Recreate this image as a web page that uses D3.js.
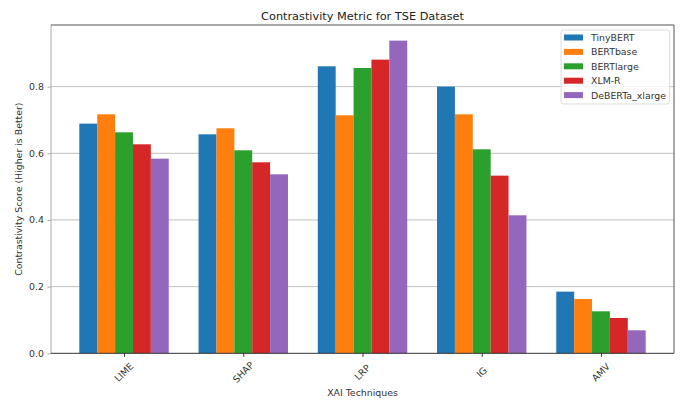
<!DOCTYPE html>
<html><head><meta charset="utf-8">
<script src="https://cdn.jsdelivr.net/npm/d3@7"></script>
<style>body{margin:0;background:#fff;} text{font-family:"DejaVu Sans",sans-serif;}</style>
</head><body>
<svg id="c" width="685" height="401"></svg>
<script>
const categories = ["LIME","SHAP","LRP","IG","AMV"];
const seriesNames = ["TinyBERT","BERTbase","BERTlarge","XLM-R","DeBERTa_xlarge"];
const colors = ["#1f77b4","#ff7f0e","#2ca02c","#d62728","#9467bd"];
const tinyBERT  = [0.689,0.657,0.861,0.800,0.185];
const bertBase  = [0.717,0.675,0.714,0.717,0.163];
const bertLarge = [0.663,0.609,0.856,0.612,0.126];
const xlmR      = [0.627,0.573,0.881,0.533,0.106];
const deberta   = [0.584,0.537,0.938,0.414,0.069];
const yTicks = [0.0,0.2,0.4,0.6,0.8];
const series = [tinyBERT,bertBase,bertLarge,xlmR,deberta];

const svg = d3.select("#c");
const L=51, R=674, T=25, B=353.3;
const barW = 0.15;
const n = categories.length;
const FS = 9.4;
const x = d3.scaleLinear().domain([-0.6125, n-1+0.6125]).range([L,R]);
const ymax = d3.max(series.flat())*1.05;
const y = d3.scaleLinear().domain([0,ymax]).range([B,T]);

// grid
svg.append("g").selectAll("line").data(yTicks.filter(d=>d>0)).join("line")
  .attr("x1",L).attr("x2",R).attr("y1",d=>y(d)).attr("y2",d=>y(d))
  .attr("stroke","#b0b0b0").attr("stroke-width",0.8);

// bars
series.forEach((vals,si)=>{
  svg.append("g").selectAll("rect").data(vals).join("rect")
    .attr("x",(d,i)=>x(i+(si-2)*barW-barW/2))
    .attr("width",x(barW)-x(0))
    .attr("y",d=>y(d))
    .attr("height",d=>B-y(d))
    .attr("fill",colors[si]);
});

// axes
const yAxis = d3.axisLeft(y).tickValues(yTicks).tickFormat(d3.format(".1f")).tickSize(3.5).tickPadding(3.5);
const gy = svg.append("g").attr("transform",`translate(${L},0)`).call(yAxis);
gy.select(".domain").remove();
gy.selectAll("line").attr("stroke","#aaa");
gy.selectAll("text").attr("font-size",FS).attr("fill","#333");

const xAxis = d3.axisBottom(x).tickValues(d3.range(n)).tickFormat(i=>categories[i]).tickSize(3.5).tickPadding(3.5);
const gx = svg.append("g").attr("transform",`translate(0,${B})`).call(xAxis);
gx.select(".domain").remove();
gx.selectAll("line").attr("stroke","#333");
gx.selectAll("text").attr("font-size",FS).attr("fill","#333")
  .attr("text-anchor","middle").attr("dy",0).attr("y",0)
  .attr("transform","translate(0,19.5) rotate(-45)").attr("dominant-baseline","middle");

// spines
svg.append("line").attr("x1",L).attr("x2",L).attr("y1",T).attr("y2",B).attr("stroke","#aaa").attr("stroke-width",1);
svg.append("line").attr("x1",L).attr("x2",R).attr("y1",B).attr("y2",B).attr("stroke","#333").attr("stroke-width",1);
svg.append("line").attr("x1",L).attr("x2",R).attr("y1",T).attr("y2",T).attr("stroke","#555").attr("stroke-width",1);
svg.append("line").attr("x1",R).attr("x2",R).attr("y1",T).attr("y2",B).attr("stroke","#555").attr("stroke-width",1);

// title & labels
svg.append("text").attr("x",(L+R)/2).attr("y",20).attr("text-anchor","middle").attr("font-size",11.3).attr("fill","#222")
  .text("Contrastivity Metric for TSE Dataset");
svg.append("text").attr("x",(L+R)/2).attr("y",396).attr("text-anchor","middle").attr("font-size",FS).attr("fill","#333")
  .text("XAI Techniques");
svg.append("text").attr("transform",`translate(22,${(T+B)/2}) rotate(-90)`).attr("text-anchor","middle").attr("font-size",FS).attr("fill","#333")
  .text("Contrastivity Score (Higher is Better)");

// legend
const lg = svg.append("g");
lg.append("rect").attr("x",561).attr("y",30).attr("width",108.5).attr("height",74).attr("rx",2.5)
  .attr("fill","#fff").attr("fill-opacity",0.8).attr("stroke","#ddd");
seriesNames.forEach((s,i)=>{
  const cy = 37.5+i*14.4;
  lg.append("rect").attr("x",564).attr("y",cy-3).attr("width",19).attr("height",6).attr("fill",colors[i]);
  lg.append("text").attr("x",591).attr("y",cy).attr("dominant-baseline","central").attr("font-size",FS).attr("fill","#333").text(s);
});
</script>
</body></html>
